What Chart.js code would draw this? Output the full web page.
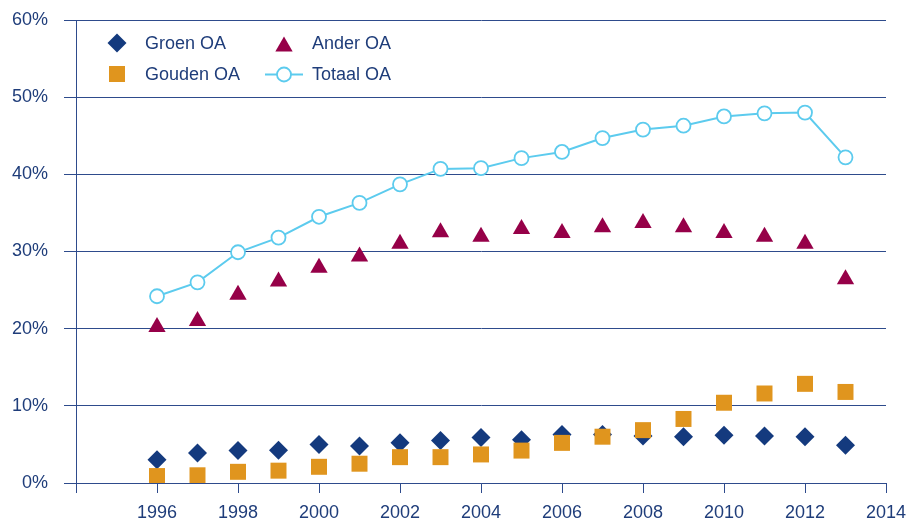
<!DOCTYPE html>
<html>
<head>
<meta charset="utf-8">
<script src="https://cdn.jsdelivr.net/npm/chart.js@4/dist/chart.umd.min.js"></script>
<style>
  html, body { margin: 0; padding: 0; background: #fff; }
  #wrap { width: 907px; height: 521px; }
</style>
</head>
<body>
<div id="wrap"><canvas id="chart"></canvas></div>
<script>
const YEARS = [1996, 1997, 1998, 1999, 2000, 2001, 2002, 2003, 2004, 2005, 2006, 2007, 2008, 2009, 2010, 2011, 2012, 2013];
const GROEN  = [3.0, 3.9, 4.2, 4.25, 5.0, 4.8, 5.2, 5.5, 5.9, 5.6, 6.3, 6.3, 6.1, 6.0, 6.2, 6.1, 6.0, 4.9];
const GOUDEN = [0.9, 1.0, 1.45, 1.6, 2.1, 2.5, 3.35, 3.35, 3.7, 4.2, 5.2, 6.0, 6.85, 8.3, 10.4, 11.6, 12.85, 11.8];
const ANDER  = [20.2, 21.0, 24.4, 26.1, 27.9, 29.35, 31.0, 32.5, 31.9, 32.9, 32.4, 33.15, 33.7, 33.15, 32.4, 31.9, 31.0, 26.4];
const TOTAAL = [24.2, 26.0, 29.9, 31.8, 34.5, 36.3, 38.7, 40.7, 40.8, 42.1, 42.9, 44.7, 45.8, 46.3, 47.5, 47.9, 48.0, 42.2];

const X_TICKS = [1994, 1996, 1998, 2000, 2002, 2004, 2006, 2008, 2010, 2012, 2014];
const Y_TICKS = [0, 10, 20, 30, 40, 50, 60];

const TEXT = '#1f3d7a';
const GRID = '#2e4b8c';

Chart.defaults.font.family = '"Liberation Sans", Arial, sans-serif';
Chart.defaults.font.size = 18;
Chart.defaults.color = TEXT;

const pts = (vals) => YEARS.map((yr, i) => ({ x: yr, y: vals[i] }));

// legend drawn inside the plot, two columns
const insideLegend = {
  id: 'insideLegend',
  afterDraw(chart) {
    const ctx = chart.ctx;
    const items = [
      { ds: 0, mx: 117, my: 43, tx: 145, ty: 44 },
      { ds: 1, mx: 284, my: 46.5, tx: 312, ty: 44 },
      { ds: 2, mx: 117, my: 74, tx: 145, ty: 75 },
      { ds: 3, mx: 284, my: 74.5, tx: 312, ty: 75 }
    ];
    ctx.save();
    items.forEach(it => {
      const ds = chart.data.datasets[it.ds];
      if (ds.showLine) {
        ctx.strokeStyle = ds.borderColor;
        ctx.lineWidth = ds.borderWidth;
        ctx.beginPath();
        ctx.moveTo(it.mx - 19, it.my);
        ctx.lineTo(it.mx + 19, it.my);
        ctx.stroke();
      }
      ctx.fillStyle = ds.pointBackgroundColor;
      ctx.strokeStyle = ds.pointBorderColor;
      ctx.lineWidth = ds.pointBorderWidth;
      Chart.helpers.drawPoint(ctx, {
        pointStyle: ds.pointStyle, radius: ds.pointRadius,
        rotation: 0, borderWidth: ds.pointBorderWidth
      }, it.mx, it.my);
      ctx.fillStyle = TEXT;
      ctx.font = '18px "Liberation Sans", Arial, sans-serif';
      ctx.textBaseline = 'middle';
      ctx.textAlign = 'left';
      ctx.fillText(ds.label, it.tx, it.ty);
    });
    ctx.restore();
  }
};

new Chart(document.getElementById('chart'), {
  type: 'line',
  data: {
    datasets: [
      {
        label: 'Groen OA', data: pts(GROEN), showLine: false, order: 4,
        pointStyle: 'rectRot', pointRadius: 9.5, pointHoverRadius: 9.5,
        pointBackgroundColor: '#143a7e', pointBorderColor: '#143a7e', pointBorderWidth: 0
      },
      {
        label: 'Ander OA', data: pts(ANDER), showLine: false, order: 3,
        pointStyle: 'triangle', pointRadius: 10, pointHoverRadius: 10,
        pointBackgroundColor: '#960048', pointBorderColor: '#960048', pointBorderWidth: 0
      },
      {
        label: 'Gouden OA', data: pts(GOUDEN), showLine: false, order: 2,
        pointStyle: 'rect', pointRadius: 11.3, pointHoverRadius: 11.3,
        pointBackgroundColor: '#e0951e', pointBorderColor: '#e0951e', pointBorderWidth: 0
      },
      {
        label: 'Totaal OA', data: pts(TOTAAL), showLine: true, order: 1,
        borderColor: '#5ccbee', borderWidth: 2, tension: 0,
        pointStyle: 'circle', pointRadius: 7, pointHoverRadius: 7,
        pointBackgroundColor: '#ffffff', pointBorderColor: '#5ccbee', pointBorderWidth: 1.8
      }
    ]
  },
  options: {
    responsive: true,
    maintainAspectRatio: false,
    animation: false,
    layout: { padding: { top: 20, right: 21, left: 0, bottom: 0 } },
    plugins: { legend: { display: false }, tooltip: { enabled: false } },
    scales: {
      x: {
        type: 'linear', min: 1994, max: 2014,
        afterBuildTicks: (s) => { s.ticks = X_TICKS.map(v => ({ value: v })); },
        afterFit: (s) => { s.height = 38; s.paddingLeft = 0; s.paddingRight = 0; },
        ticks: { padding: 9, maxRotation: 0, autoSkip: false, callback: (v) => v === 1994 ? '' : String(v) },
        grid: { drawOnChartArea: false, drawTicks: true, tickLength: 10, color: GRID, lineWidth: 1 },
        border: { color: GRID, width: 1 }
      },
      y: {
        min: 0, max: 60,
        afterBuildTicks: (s) => { s.ticks = Y_TICKS.map(v => ({ value: v })); },
        afterFit: (s) => { s.width = 76; s.paddingTop = 0; s.paddingBottom = 0; },
        ticks: { padding: 16, callback: (v) => v + '%' },
        grid: { color: GRID, lineWidth: 1, tickLength: 12 },
        border: { color: GRID, width: 1 }
      }
    }
  },
  plugins: [insideLegend]
});
</script>
</body>
</html>
